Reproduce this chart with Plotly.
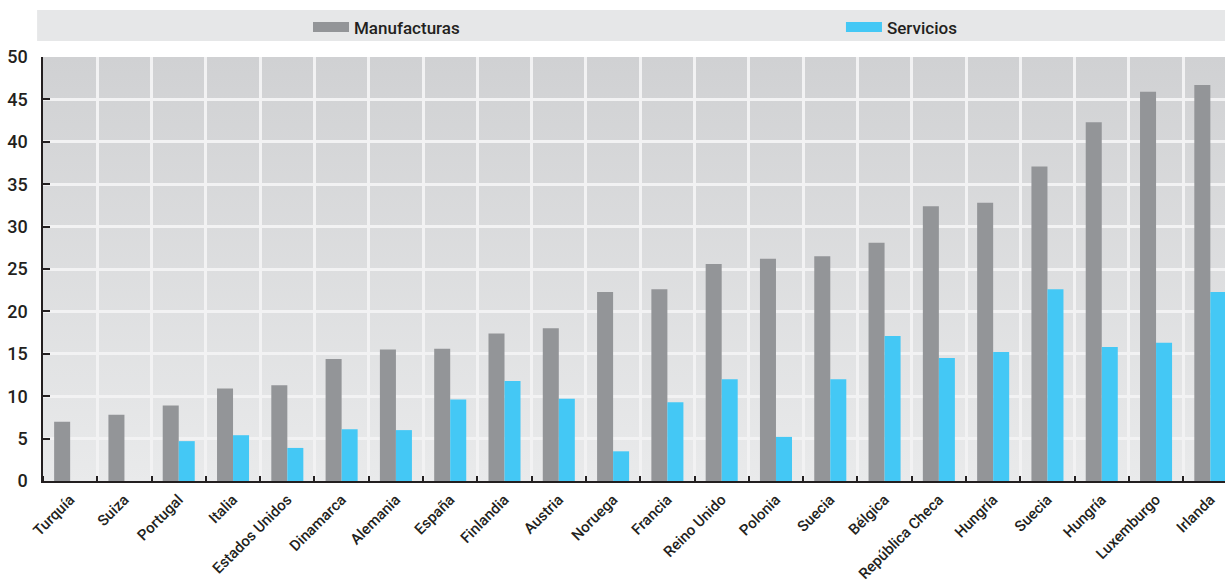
import base64
import plotly.graph_objects as go

categories = ["Turquía", "Suiza", "Portugal", "Italia", "Estados Unidos", "Dinamarca",
              "Alemania", "España", "Finlandia", "Austria", "Noruega", "Francia",
              "Reino Unido", "Polonia", "Suecia", "Bélgica", "República Checa", "Hungría",
              "Suecia", "Hungría", "Luxemburgo", "Irlanda"]
manufacturas = [7.0, 7.8, 8.9, 10.9, 11.3, 14.4, 15.5, 15.6, 17.4, 18.0, 22.3, 22.6,
                25.6, 26.2, 26.5, 28.1, 32.4, 32.8, 37.1, 42.3, 45.9, 46.7]
servicios = [None, None, 4.7, 5.4, 3.9, 6.1, 6.0, 9.6, 11.8, 9.7, 3.5, 9.3,
             12.0, 5.2, 12.0, 17.1, 14.5, 15.2, 22.6, 15.8, 16.3, 22.3]
y_ticks = [0, 5, 10, 15, 20, 25, 30, 35, 40, 45, 50]
series_names = ["Manufacturas", "Servicios"]
series_colors = ["#939598", "#44c8f5"]

positions = list(range(len(categories)))
FONT = "Roboto, Arial, sans-serif"
TXT = "#231f20"

fig = go.Figure()
for name, vals, col in zip(series_names, [manufacturas, servicios], series_colors):
    fig.add_trace(go.Bar(x=positions, y=vals, name=name, showlegend=False,
                         marker=dict(color=col, line=dict(width=0))))
# legend entries (wide rectangular swatches)
for name, col, lg in zip(series_names, series_colors, ["legend", "legend2"]):
    fig.add_trace(go.Scatter(x=[None], y=[None], mode="lines", name=name,
                             line=dict(color=col, width=16), legend=lg,
                             hoverinfo="skip"))

svg = ('<svg xmlns="http://www.w3.org/2000/svg" width="10" height="100" preserveAspectRatio="none">'
       '<defs><linearGradient id="g" x1="0" y1="0" x2="0" y2="1">'
       '<stop offset="0" stop-color="#d0d1d3"/><stop offset="1" stop-color="#e9eaeb"/>'
       '</linearGradient></defs><rect width="10" height="100" fill="url(#g)"/></svg>')
src = "data:image/svg+xml;base64," + base64.b64encode(svg.encode()).decode()

leg_common = dict(orientation="h", y=1.0696, yanchor="middle", xanchor="left",
                  bgcolor="rgba(0,0,0,0)", itemwidth=36,
                  font=dict(family=FONT, size=17, color=TXT, weight=500))

fig.update_layout(
    width=1225, height=582,
    margin=dict(l=43, r=0, t=57, b=101, pad=0),
    paper_bgcolor="white",
    plot_bgcolor="rgba(0,0,0,0)",
    barmode="group", bargap=0.41, bargroupgap=0,
    font=dict(family=FONT, size=16, color=TXT),
    showlegend=True,
    legend=dict(x=0.2242, **leg_common),
    legend2=dict(x=0.6751, **leg_common),
    images=[dict(source=src, xref="paper", yref="paper", x=0, y=1, sizex=1, sizey=1,
                 xanchor="left", yanchor="top", sizing="stretch", layer="below")],
    shapes=[dict(type="rect", xref="paper", yref="paper", x0=-0.005, x1=1.0,
                 y0=1.0377, y1=1.1108, fillcolor="#e6e7e8", line=dict(width=0),
                 layer="below")],
)
fig.update_xaxes(
    range=[-0.5, 21.27], tickmode="array", tickvals=positions, ticktext=categories,
    tickangle=-45, showgrid=False, ticks="", zeroline=False, automargin=False,
    showline=True, linecolor=TXT, linewidth=2, ticklabelstandoff=2,
    tickfont=dict(family=FONT, size=15, color=TXT, weight=500),
    minor=dict(tick0=-0.5, dtick=1, showgrid=True, gridcolor="#f2f2f3", gridwidth=2.5,
               ticks="inside", ticklen=5, tickcolor=TXT, tickwidth=1.5),
)
fig.update_yaxes(
    range=[0, 50], tickmode="array", tickvals=y_ticks, showgrid=True,
    gridcolor="#f2f2f3", gridwidth=2.5, zeroline=False, automargin=False,
    showline=True, linecolor=TXT, linewidth=1.5,
    ticks="inside", ticklen=7, tickcolor=TXT, tickwidth=1.5,
    tickfont=dict(family=FONT, size=18, color=TXT, weight=500), ticklabelstandoff=10,
)

fig.write_html("out.html", config={"displayModeBar": False},
               post_script="document.body.style.margin='0';")
